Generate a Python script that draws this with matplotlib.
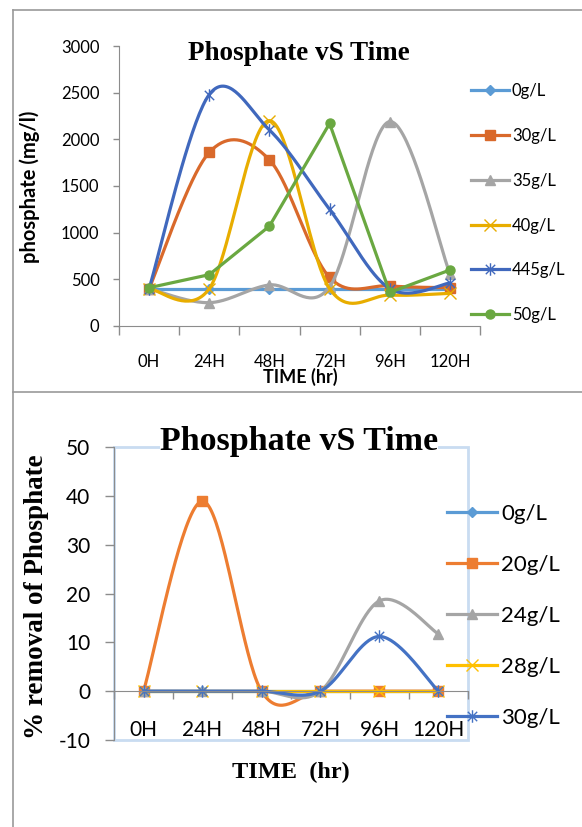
import numpy as np
import matplotlib
matplotlib.use("Agg")
import matplotlib.pyplot as plt
from matplotlib.lines import Line2D
from matplotlib.patches import Rectangle
from matplotlib.path import Path

# ---- data ----
times = ["0H", "24H", "48H", "72H", "96H", "120H"]

# top chart: phosphate (mg/l)
top_labels = ["0g/L", "30g/L", "35g/L", "40g/L", "445g/L", "50g/L"]
top_0 = [400, 400, 400, 400, 400, 400]
top_30 = [400, 1860, 1780, 520, 430, 410]
top_35 = [400, 250, 440, 420, 2190, 560]
top_40 = [400, 400, 2200, 400, 330, 350]
top_445 = [400, 2480, 2100, 1250, 400, 460]
top_50 = [410, 550, 1070, 2170, 360, 600]

# bottom chart: % removal of phosphate
bot_labels = ["0g/L", "20g/L", "24g/L", "28g/L", "30g/L"]
bot_0 = [0, 0, 0, 0, 0, 0]
bot_20 = [0, 38.9, 0, 0, 0, 0]
bot_24 = [0, 0, 0, 0, 18.5, 11.7]
bot_28 = [0, 0, 0, 0, 0, 0]
bot_30 = [0, 0, 0, 0, 11.2, 0]

W, H = 582, 827
SANS = ["Lato", "DejaVu Sans"]
SERIF = ["Liberation Serif", "DejaVu Serif"]
GRAY = "#8c8c8c"

# asterisk marker like Excel's (x with a vertical bar)
STAR = Path([(0, -1), (0, 1), (-0.75, -0.75), (0.75, 0.75), (-0.75, 0.75), (0.75, -0.75)],
            [Path.MOVETO, Path.LINETO, Path.MOVETO, Path.LINETO, Path.MOVETO, Path.LINETO])


def fx(px):
    return px / W


def fy(py):
    return 1 - py / H


def smooth(xs, ys, n=40):
    """Excel-like smoothed line (Catmull-Rom as cubic Bezier)."""
    pts = np.column_stack([xs, ys]).astype(float)
    ext = np.vstack([pts[0], pts, pts[-1]])
    t = np.linspace(0, 1, n)[:, None]
    out = []
    for i in range(len(pts) - 1):
        p0, p1, p2, p3 = ext[i], ext[i + 1], ext[i + 2], ext[i + 3]
        c1 = p1 + (p2 - p0) / 6.0
        c2 = p2 - (p3 - p1) / 6.0
        seg = (1 - t) ** 3 * p1 + 3 * (1 - t) ** 2 * t * c1 + 3 * (1 - t) * t ** 2 * c2 + t ** 3 * p2
        out.append(seg if i == 0 else seg[1:])
    return np.vstack(out)


def draw_series(ax, ys, style, smooth_it):
    xs = np.arange(len(ys)) + 0.5
    if smooth_it:
        c = smooth(xs, ys)
        ax.plot(c[:, 0], c[:, 1], color=style["color"], lw=2.3, solid_capstyle="round", clip_on=False)
    else:
        ax.plot(xs, ys, color=style["color"], lw=2.3, clip_on=False)
    ax.plot(xs, ys, ls="none", marker=style["marker"], ms=style["ms"], mew=style["mew"],
            mfc=style["mfc"], mec=style["color"], clip_on=False)


def handle(style):
    return Line2D([], [], color=style["color"], lw=2.3, marker=style["marker"], ms=style["ms"],
                  mew=style["mew"], mfc=style["mfc"], mec=style["color"])


def category_axis(ax, labelsize, pad, ticklen):
    ax.set_xlim(0, 6)
    ax.set_xticks(np.arange(7))
    ax.set_xticklabels([])
    ax.set_xticks(np.arange(6) + 0.5, minor=True)
    ax.set_xticklabels(times, minor=True, fontsize=labelsize, family=SANS)
    ax.tick_params(axis="x", which="major", direction="out", length=ticklen, color=GRAY, width=1)
    ax.tick_params(axis="x", which="minor", length=0, pad=pad, labelsize=labelsize)
    ax.spines["top"].set_visible(False)
    ax.spines["right"].set_visible(False)
    ax.spines["left"].set_color(GRAY)
    ax.spines["bottom"].set_color(GRAY)


fig = plt.figure(figsize=(W / 100, H / 100), dpi=100)

# panel frames
for xs_, ys_ in [([13, W], [10, 10]), ([13, 13], [10, 392]), ([13, W], [392, 392]), ([13, 13], [393, H])]:
    fig.add_artist(Line2D([fx(v) for v in xs_], [fy(v) for v in ys_], color="#9a9a9a", lw=1.2))

# ---------------- top chart ----------------
top_styles = [
    dict(color="#5b9bd5", marker="D", ms=5, mew=1, mfc="#5b9bd5"),
    dict(color="#d9692b", marker="s", ms=6.5, mew=1, mfc="#d9692b"),
    dict(color="#a5a5a5", marker="^", ms=7, mew=1, mfc="#a5a5a5"),
    dict(color="#e8ad00", marker="x", ms=8, mew=1, mfc="none"),
    dict(color="#4068bd", marker=STAR, ms=9, mew=1, mfc="none"),
    dict(color="#6aa841", marker="o", ms=6.5, mew=1, mfc="#6aa841"),
]
top_series = [top_0, top_30, top_35, top_40, top_445, top_50]
top_smooth = [False, True, True, True, True, False]

ax1 = fig.add_axes([fx(119), fy(326), fx(480 - 119), (326 - 46) / H])
for ys, st, sm in zip(top_series, top_styles, top_smooth):
    draw_series(ax1, ys, st, sm)
ax1.set_ylim(0, 3000)
ax1.set_yticks(np.arange(0, 3001, 500))
ax1.set_yticklabels([str(v) for v in range(0, 3001, 500)], fontsize=12, family=SANS)
ax1.tick_params(axis="y", direction="out", length=4, color=GRAY, width=1, pad=10)
category_axis(ax1, 12, 20, 6.5)

fig.text(fx(299), fy(60), "Phosphate vS Time", family=SERIF, fontweight="bold", fontsize=19.5,
         ha="center", va="baseline")
fig.text(fx(300), fy(383), "TIME (hr)", family=SANS, fontweight="bold", fontsize=13,
         ha="center", va="baseline")
fig.text(fx(30), fy(187), "phosphate (mg/l)", family=SANS, fontweight="bold", fontsize=14.5,
         rotation=90, ha="center", va="center")

leg1 = fig.legend([handle(s) for s in top_styles], top_labels, loc="upper left",
                  bbox_to_anchor=(fx(471), fy(83)), frameon=False, prop=dict(family=SANS, size=12),
                  handlelength=2.25, handletextpad=0.2, labelspacing=1.73, borderpad=0, borderaxespad=0)

# ---------------- bottom chart ----------------
bot_styles = [
    dict(color="#5b9bd5", marker="D", ms=5, mew=1, mfc="#5b9bd5"),
    dict(color="#ed7d31", marker="s", ms=6.5, mew=1, mfc="#ed7d31"),
    dict(color="#a5a5a5", marker="^", ms=7.5, mew=1, mfc="#a5a5a5"),
    dict(color="#ffc000", marker="x", ms=8, mew=1, mfc="none"),
    dict(color="#4472c4", marker=STAR, ms=9, mew=1, mfc="none"),
]
bot_series = [bot_0, bot_20, bot_24, bot_28, bot_30]

ax2 = fig.add_axes([fx(114), fy(740), fx(468 - 114), (740 - 447) / H])
ax2.spines["bottom"].set_position(("data", 0))
ax2.add_patch(Rectangle((0, 0), 1, 1, transform=ax2.transAxes, fill=False, ec="#c9dcf1", lw=2,
                        clip_on=False, zorder=0))
for ys, st in zip(bot_series, bot_styles):
    draw_series(ax2, ys, st, True)
ax2.set_ylim(-10, 50)
ax2.set_yticks(np.arange(-10, 51, 10))
ax2.set_yticklabels([str(v) for v in range(-10, 51, 10)], fontsize=15, family=SANS)
ax2.tick_params(axis="y", direction="out", length=6.5, color=GRAY, width=1, pad=10.5)
category_axis(ax2, 15, 21, 6)

fig.text(fx(299), fy(450), "Phosphate vS Time", family=SERIF, fontweight="bold", fontsize=24.5,
         ha="center", va="baseline", bbox=dict(facecolor="white", edgecolor="none", pad=0))
fig.text(fx(291), fy(778), "TIME  (hr)", family=SERIF, fontweight="bold", fontsize=17.5,
         ha="center", va="baseline")
fig.text(fx(37), fy(597), "% removal of Phosphate", family=SERIF, fontweight="bold", fontsize=19.5,
         rotation=90, ha="center", va="center")

leg2 = fig.legend([handle(s) for s in bot_styles], bot_labels, loc="upper left",
                  bbox_to_anchor=(fx(447), fy(504)), frameon=False, prop=dict(family=SANS, size=16),
                  handlelength=2.23, handletextpad=0.2, labelspacing=1.39, borderpad=0, borderaxespad=0)

fig.savefig("out.png", dpi=100)
